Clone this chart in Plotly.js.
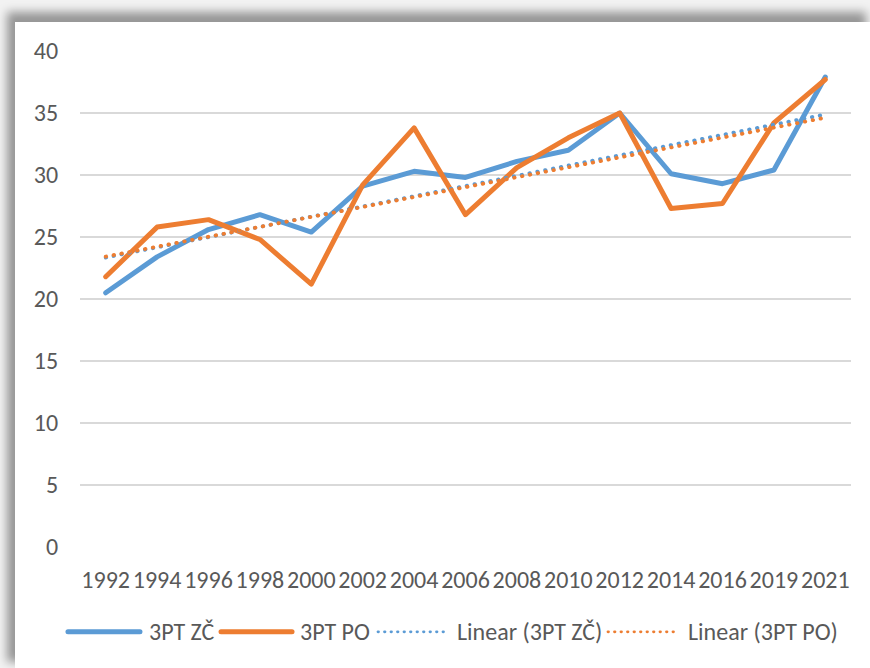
<!DOCTYPE html>
<html>
<head>
<meta charset="utf-8">
<script src="https://cdn.plot.ly/plotly-3.0.1.min.js"></script>
<style>
html, body { margin:0; padding:0; width:870px; height:668px; overflow:hidden; background:#f2f2f2; }
#frame { position:absolute; left:15px; top:22px; width:855px; height:646px; background:#fff;
  box-shadow: -6px -8px 9px 2px rgba(0,0,0,0.38); }
#chart { position:absolute; left:0; top:0; width:855px; height:646px; }
.scatterlayer path.js-line { stroke-linejoin: round; stroke-linecap: round; }
.shapelayer path { stroke-linecap: round; }
</style>
</head>
<body>
<div id="frame"><div id="chart"></div></div>
<script>
var years = ["1992","1994","1996","1998","2000","2002","2004","2006","2008","2010","2012","2014","2016","2019","2021"];
var zc = [20.5,23.4,25.6,26.8,25.4,29.1,30.3,29.8,31.1,32.0,35.0,30.1,29.3,30.4,37.9];
var po = [21.8,25.8,26.4,24.8,21.2,29.2,33.8,26.8,30.6,33.0,35.0,27.3,27.7,34.2,37.7];
var names = ["3PT ZČ","3PT PO","Linear (3PT ZČ)","Linear (3PT PO)"];

var BLUE = "#5B9BD5", ORANGE = "#ED7D31", TXT = "#595959";
var FONT = "Carlito, Lato, sans-serif";
var DOT = "0.5px,7.5px";

function linearFit(vals) {
  var n = vals.length, sx = 0, sy = 0, sxx = 0, sxy = 0;
  for (var i = 0; i < n; i++) { var x = i + 1; sx += x; sy += vals[i]; sxx += x*x; sxy += x*vals[i]; }
  var b = (n*sxy - sx*sy) / (n*sxx - sx*sx), a = (sy - b*sx) / n;
  return vals.map(function(_, i){ return a + b*(i+1); });
}

var traces = [
  {x: years, y: zc, name: names[0], mode: "lines", line: {color: BLUE, width: 5}},
  {x: years, y: po, name: names[1], mode: "lines", line: {color: ORANGE, width: 5}},
  {x: years, y: linearFit(zc), name: names[2], mode: "lines", line: {color: BLUE, width: 3.8, dash: DOT}},
  {x: years, y: linearFit(po), name: names[3], mode: "lines", line: {color: ORANGE, width: 3.8, dash: DOT}}
];

// custom legend (paper coordinates)
var ly = -0.171;
var legendItems = [
  {x0: -0.0156, x1: 0.0778, tx: 0.0869, color: BLUE, dash: "solid", w: 5, label: names[0]},
  {x0: 0.1829, x1: 0.275, tx: 0.2827, color: ORANGE, dash: "solid", w: 5, label: names[1]},
  {x0: 0.3865, x1: 0.476, tx: 0.4864, color: BLUE, dash: "0.5px,6px", w: 2.8, label: names[2]},
  {x0: 0.6848, x1: 0.7743, tx: 0.786, color: ORANGE, dash: "0.5px,6px", w: 2.8, label: names[3]}
];
var shapes = [], annotations = [];
legendItems.forEach(function(it){
  shapes.push({type: "line", xref: "paper", yref: "paper", x0: it.x0, x1: it.x1, y0: ly, y1: ly,
    line: {color: it.color, width: it.w, dash: it.dash}});
  annotations.push({xref: "paper", yref: "paper", x: it.tx, y: ly, xanchor: "left", yanchor: "middle",
    text: it.label, showarrow: false, font: {family: FONT, size: 24, color: TXT}});
});

var layout = {
  width: 855, height: 646,
  margin: {l: 65, r: 19, t: 29, b: 121},
  paper_bgcolor: "#ffffff", plot_bgcolor: "#ffffff",
  showlegend: false,
  font: {family: FONT, size: 24, color: TXT},
  xaxis: {type: "category", range: [-0.5, 14.5], showgrid: false, zeroline: false, showline: false,
    ticks: "outside", ticklen: 11, tickcolor: "rgba(0,0,0,0)", tickangle: 0,
    tickfont: {family: FONT, size: 24, color: TXT}, fixedrange: true},
  yaxis: {range: [0, 40], dtick: 5, tick0: 0, showgrid: true, gridcolor: "#D9D9D9", gridwidth: 1.5,
    zeroline: false, showline: false, ticks: "outside", ticklen: 16, tickcolor: "rgba(0,0,0,0)",
    tickfont: {family: FONT, size: 24, color: TXT}, fixedrange: true},
  shapes: shapes,
  annotations: annotations
};

Plotly.newPlot("chart", traces, layout, {displayModeBar: false, staticPlot: true});
</script>
</body>
</html>
